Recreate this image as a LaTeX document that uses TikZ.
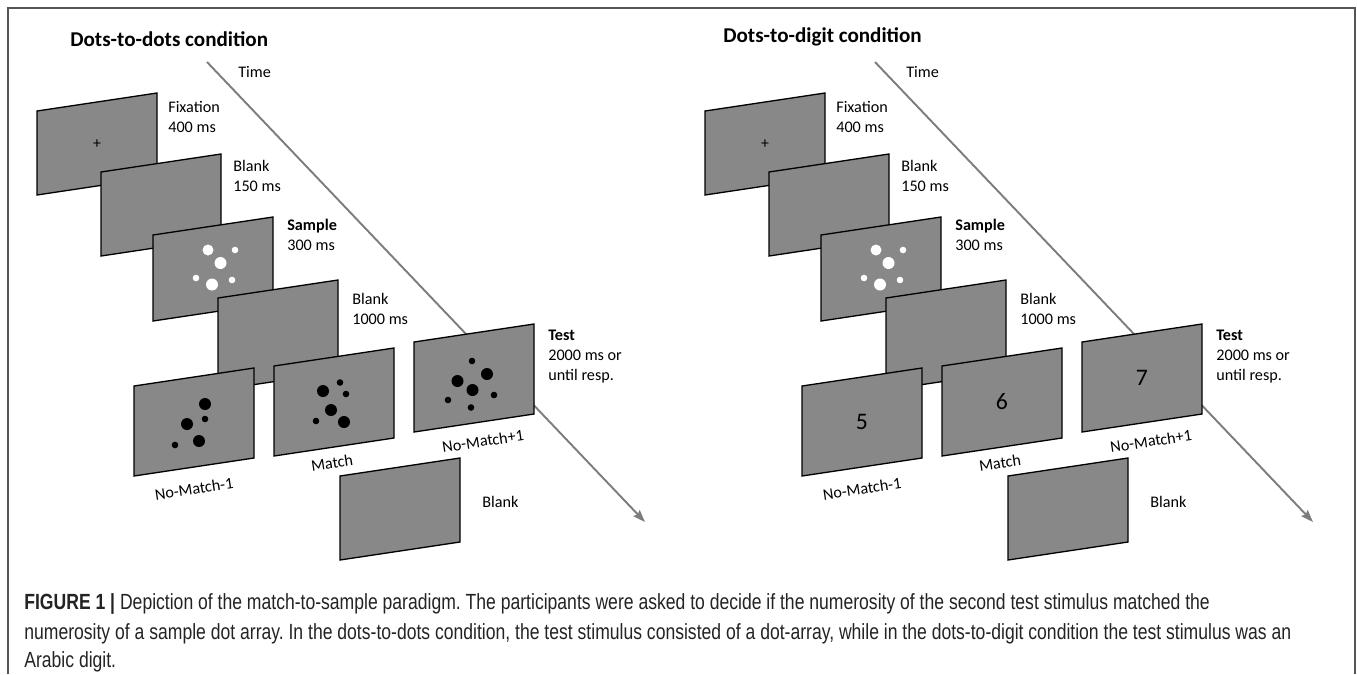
\documentclass[tikz,border=0pt]{standalone}
\usepackage{fontspec}
\setmainfont{Carlito}
\newfontfamily\capfont[FakeStretch=0.80]{Liberation Sans}
\usetikzlibrary{arrows.meta}

\definecolor{screengray}{RGB}{136,136,136}
\definecolor{timegray}{RGB}{125,125,125}
\definecolor{framegray}{RGB}{85,85,85}
\definecolor{captext}{RGB}{35,35,35}

% stimulus screen: name, top-left x, top-left y, height
\newcommand{\stimscreen}[4]{%
  \draw[stim] (#2,#3) -- ++(120,-18) -- ++(0,#4) -- ++(-120,18) -- cycle;
  \coordinate (#1) at ({#2+60},{#3-9+#4/2});
}
% dot array on a screen: centre, colour, x/y/r list
\newcommand{\dotarray}[3]{%
  \begin{scope}[shift={(#1)}]
    \foreach \u/\v/\r in {#3} \fill[#2] (\u,\v) circle (\r);
  \end{scope}
}

\begin{document}
\frenchspacing
\begin{tikzpicture}[
    x=0.02cm, y=-0.02cm,
    stim/.style={draw=black, line width=0.75pt, fill=screengray},
    lbl/.style={anchor=north west, inner sep=0pt, align=left, font=\fontsize{9.2}{11.4}\selectfont},
    cond/.style={anchor=west, inner sep=0pt, font=\fontsize{12}{14}\selectfont\bfseries},
    resp/.style={inner sep=0pt, rotate=8.5, font=\fontsize{9.2}{11}\selectfont},
    digit/.style={inner sep=0pt, font=\fontsize{13.5}{15}\selectfont},
    timeline/.style={draw=timegray, line width=1.1pt, -{Stealth[length=7pt, width=5pt, inset=1pt]}},
    frame/.style={draw=framegray, line width=0.85pt},
    capline/.style={anchor=base west, inner sep=0pt, text=captext, font=\capfont\fontsize{12.5}{15}\selectfont},
]
\useasboundingbox (0,0) rectangle (1357,674);

% frame round the figure
\draw[frame] (8,674) -- (8,8) -- (1355,8) -- (1355,674);

\node[cond] (title1) at (70,39) {Dots-to-dots condition};
\node[cond] (title2) at (723,37) {Dots-to-digit condition};

\foreach \dx in {0,668} {
\begin{scope}[shift={(\dx,0)}]
  \coordinate (t0) at (207,62);
  \coordinate (t1) at (645,522);
  \draw[timeline] (t0) -- (t1);
  \node[lbl, anchor=west] (time) at (238,72) {Time};

  \stimscreen{fix}{37}{111}{84}
  \node[inner sep=0pt, font=\fontsize{9}{10}\selectfont] (cross) at (fix) {+};
  \stimscreen{blank1}{101}{172}{84}
  \stimscreen{samp}{153}{235}{86}
  \dotarray{samp}{white}{-5/-19/5.5, 22/-19/3.3, 7.5/-6/6, -17/9/3.3, -1/15.5/6, 19/11/3.3}
  \stimscreen{blank2}{218}{298}{92}
  \stimscreen{lower}{134}{386}{90}
  \stimscreen{match}{274}{366}{90}
  \stimscreen{upper}{414}{342}{90}
  \stimscreen{blank3}{340}{476}{84}

  \node[lbl] (lfix) at (168,101) {Fixation\\400 ms};
  \node[lbl] (lblank1) at (233,160) {Blank\\150 ms};
  \node[lbl] (lsamp) at (287,219) {\textbf{Sample}\\300 ms};
  \node[lbl] (lblank2) at (352,293) {Blank\\1000 ms};
  \node[lbl] (ltest) at (548,330) {\textbf{Test}\\2000 ms or\\until resp.};
  \node[lbl, anchor=west] (lblank3) at (482,502) {Blank};

  \node[resp] (rlower) at (194,489) {No-Match-1};
  \node[resp] (rmatch) at (332,463) {Match};
  \node[resp] (rupper) at (483,441) {No-Match+1};

  \ifnum\dx=0
    \dotarray{lower}{black}{11/-18/6, -7/2/6, 11/-3/3.3, 5/19/6, -19/23/3.3}
    \dotarray{match}{black}{-11/-11/6, 6/-19.5/3.3, 12/-8/3.3, -3/8/6, -18/19/3.3, 10/20/6}
    \dotarray{upper}{black}{-2/-17/3.3, 13/-4/6, -16.5/3/6, -1.5/12/6, -26/22/3.3, 20/17/3.3, -3/29.5/3.3}
  \else
    \node[digit] (d5) at (lower) {5};
    \node[digit] (d6) at (match) {6};
    \node[digit] (d7) at (upper) {7};
  \fi
\end{scope}
}

% caption
\node[capline] (cap1) at (24,609) {\textbf{FIGURE 1 |} Depiction of the match-to-sample paradigm. The participants were asked to decide if the numerosity of the second test stimulus matched the};
\node[capline] (cap2) at (24,639) {numerosity of a sample dot array. In the dots-to-dots condition, the test stimulus consisted of a dot-array, while in the dots-to-digit condition the test stimulus was an};
\node[capline] (cap3) at (24,667) {Arabic digit.};
\end{tikzpicture}
\end{document}
